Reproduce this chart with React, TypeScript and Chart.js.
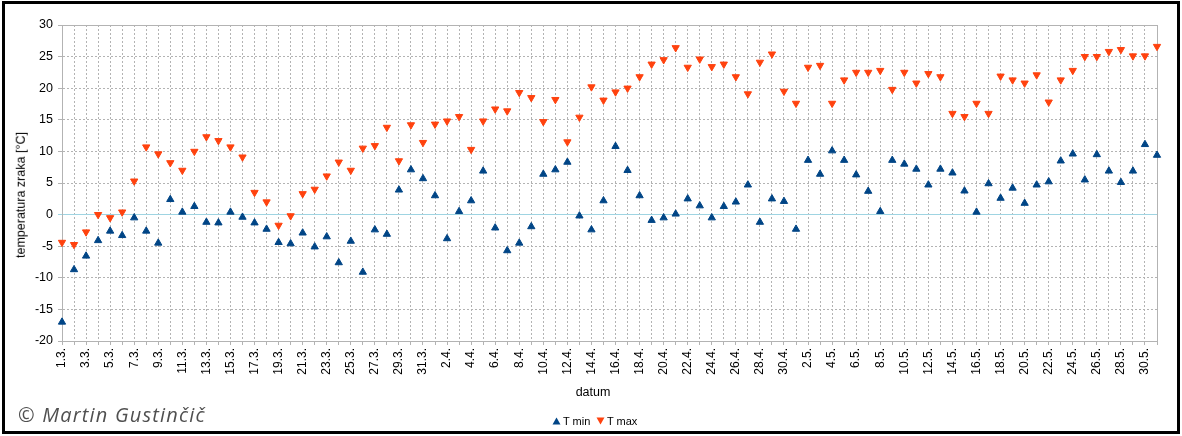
import React, { useEffect, useRef } from 'react';
import { Chart, registerables } from 'chart.js';

Chart.register(...registerables);

// months shown on the category axis: [month number, number of days]
const months: [number, number][] = [
  [3, 31],
  [4, 30],
  [5, 31],
];
const categories: string[] = months.flatMap(([m, n]) =>
  Array.from({ length: n }, (_, i) => `${i + 1}.${m}.`)
);

// daily minimum temperature (°C), 1.3. .. 31.5.
const tMin: number[] = [
  -17.0, -8.7, -6.55, -4.1, -2.6, -3.3, -0.5, -2.6, -4.5, 2.4, 0.4, 1.3, -1.2, -1.3, 0.4, -0.4,
  -1.3, -2.3, -4.4, -4.6, -2.9, -5.1, -3.5, -7.6, -4.2, -9.1, -2.4, -3.1, 3.9, 7.1, 5.7,
  3.0, -3.8, 0.5, 2.2, 6.9, -2.1, -5.7, -4.5, -1.9, 6.4, 7.1, 8.3, -0.2, -2.4, 2.2,
  10.8, 7.0, 3.0, -0.9, -0.5, 0.1, 2.5, 1.4, -0.5, 1.3, 2.0, 4.7, -1.2, 2.5, 2.1,
  -2.3, 8.6, 6.4, 10.1, 8.6, 6.3, 3.7, 0.5, 8.6, 8.0, 7.2, 4.7, 7.2, 6.6, 3.75,
  0.4, 4.9, 2.6, 4.2, 1.8, 4.7, 5.2, 8.5, 9.6, 5.5, 9.5, 6.9, 5.1, 6.9, 11.1, 9.4,
];

// daily maximum temperature (°C), 1.3. .. 31.5.
const tMax: number[] = [
  -4.4, -4.75, -2.75, 0, -0.5, 0.4, 5.3, 10.7, 9.6, 8.2, 7.0, 10.0, 12.3, 11.7, 10.7, 9.1,
  3.5, 2.0, -1.7, -0.2, 3.3, 4.0, 6.1, 8.3, 7.0, 10.5, 10.9, 13.8, 8.5, 14.2, 11.4,
  14.3, 14.8, 15.5, 10.3, 14.8, 16.7, 16.4, 19.3, 18.5, 14.7, 18.2, 11.5, 15.4, 20.2, 18.1,
  19.4, 20.0, 21.8, 23.8, 24.5, 26.4, 23.3, 24.6, 23.4, 23.8, 21.8, 19.1, 24.1, 25.4, 19.5,
  17.6, 23.3, 23.6, 17.6, 21.3, 22.5, 22.5, 22.8, 19.8, 22.5, 20.8, 22.3, 21.8, 16.0, 15.5,
  17.6, 16.0, 21.9, 21.3, 20.8, 22.1, 17.8, 21.3, 22.8, 25.0, 25.0, 25.8, 26.1, 25.1, 25.1, 26.6,
];

const seriesNames = ['T min', 'T max'];
const yMin = -20;
const yMax = 30;
const yStep = 5;

const BLUE = '#004586';
const ORANGE = '#ff420e';
const GRID = '#b3b3b3';
const ZERO = '#9fd4e2';
const FONT = '"Liberation Sans", Arial, sans-serif';

export default function App() {
  const canvasRef = useRef<HTMLCanvasElement | null>(null);

  useEffect(() => {
    const canvas = canvasRef.current;
    if (!canvas) return;
    const chart = new Chart(canvas, {
      type: 'line',
      data: {
        labels: categories,
        datasets: [
          {
            label: seriesNames[0],
            data: tMin,
            showLine: false,
            borderColor: BLUE,
            backgroundColor: BLUE,
            pointStyle: 'triangle',
            pointRotation: 0,
            pointRadius: 4.2,
            pointBorderWidth: 1,
            pointBackgroundColor: BLUE,
            pointBorderColor: BLUE,
          },
          {
            label: seriesNames[1],
            data: tMax,
            showLine: false,
            borderColor: ORANGE,
            backgroundColor: ORANGE,
            pointStyle: 'triangle',
            pointRotation: 180,
            pointRadius: 4.2,
            pointBorderWidth: 1,
            pointBackgroundColor: ORANGE,
            pointBorderColor: ORANGE,
          },
        ],
      },
      options: {
        responsive: false,
        animation: false,
        layout: { padding: { left: 0, top: 25, right: 25, bottom: 35 } },
        plugins: {
          legend: { display: false },
          tooltip: { enabled: false },
        },
        scales: {
          x: {
            type: 'category',
            offset: false,
            afterFit: (scale: any) => {
              scale.height = 60;
            },
            grid: {
              color: GRID,
              lineWidth: 1,
              drawTicks: true,
              tickLength: 4,
              offset: false,
            },
            border: {
              display: true,
              color: GRID,
              dash: (ctx: any) => (ctx.index === categories.length - 1 ? [] : [2, 2]),
            },
            ticks: {
              autoSkip: false,
              maxRotation: 90,
              minRotation: 90,
              padding: 3,
              color: '#000',
              font: { family: FONT, size: 12 },
              callback: (_v: any, idx: number) => (idx % 2 === 0 ? categories[idx] : ''),
            },
          },
          y: {
            min: yMin,
            max: yMax,
            afterFit: (scale: any) => {
              scale.width = 62;
            },
            grid: {
              color: (ctx: any) => (ctx.tick && ctx.tick.value === 0 ? ZERO : GRID),
              lineWidth: 1,
              drawTicks: true,
              tickLength: 4,
            },
            border: {
              display: true,
              color: GRID,
              dash: (ctx: any) =>
                ctx.tick && (ctx.tick.value === 0 || ctx.tick.value === yMax) ? [] : [2, 2],
            },
            ticks: {
              stepSize: yStep,
              padding: 5,
              color: '#000',
              font: { family: FONT, size: 12.5 },
            },
          },
        },
      },
    } as any);
    return () => chart.destroy();
  }, []);

  const abs: React.CSSProperties = { position: 'absolute' };

  return (
    <div
      style={{
        position: 'absolute',
        left: 0,
        top: 0,
        width: 1182,
        height: 436,
        background: '#fff',
        fontFamily: FONT,
        color: '#000',
        overflow: 'hidden',
      }}
    >
      <canvas ref={canvasRef} width={1182} height={436} style={{ ...abs, left: 0, top: 0, width: 1182, height: 436 }} />
      <div
        style={{
          ...abs,
          left: 21,
          top: 195,
          transform: 'translate(-50%, -50%) rotate(-90deg)',
          fontSize: 12.5,
          whiteSpace: 'nowrap',
          lineHeight: 1,
        }}
      >
        temperatura zraka [°C]
      </div>
      <div
        style={{
          ...abs,
          left: 593,
          top: 392,
          transform: 'translate(-50%, -50%)',
          fontSize: 12.5,
          whiteSpace: 'nowrap',
          lineHeight: 1,
        }}
      >
        datum
      </div>
      {/* legend */}
      <svg style={{ ...abs, left: 552, top: 417 }} width={9} height={8}>
        <polygon points="4.5,0.5 8.5,7.5 0.5,7.5" fill={BLUE} />
      </svg>
      <div style={{ ...abs, left: 563, top: 421, transform: 'translateY(-50%)', fontSize: 11, lineHeight: 1, whiteSpace: 'nowrap' }}>
        {seriesNames[0]}
      </div>
      <svg style={{ ...abs, left: 596, top: 417 }} width={9} height={8}>
        <polygon points="0.5,0.5 8.5,0.5 4.5,7.5" fill={ORANGE} />
      </svg>
      <div style={{ ...abs, left: 607, top: 421, transform: 'translateY(-50%)', fontSize: 11, lineHeight: 1, whiteSpace: 'nowrap' }}>
        {seriesNames[1]}
      </div>
      {/* copyright */}
      <div
        style={{
          ...abs,
          left: 18,
          top: 405,
          fontSize: 20,
          lineHeight: 1,
          color: '#505050',
          fontFamily: '"Open Sans", sans-serif',
          fontStyle: 'italic',
          letterSpacing: 1.2,
          whiteSpace: 'nowrap',
        }}
      >
        © Martin Gustinčič
      </div>
      {/* frame */}
      <div
        style={{
          ...abs,
          left: 2,
          top: 1,
          width: 1178,
          height: 433,
          border: '3px solid #000',
          boxSizing: 'border-box',
          pointerEvents: 'none',
        }}
      />
    </div>
  );
}
